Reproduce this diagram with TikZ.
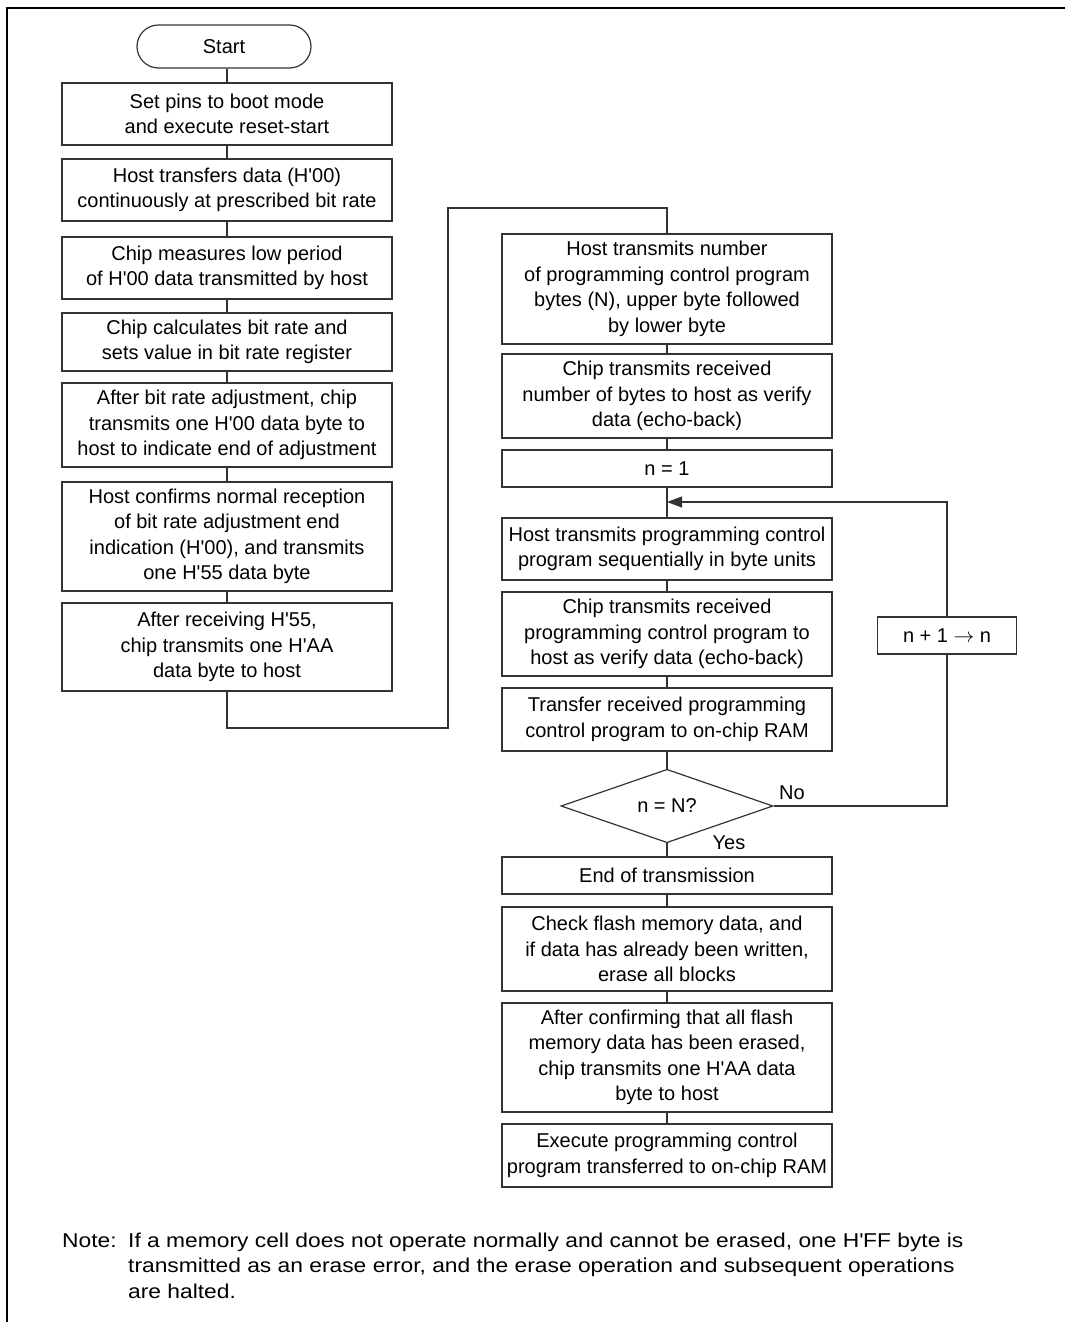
\documentclass[tikz,border=0pt]{standalone}
\usepackage{fontspec}
\setmainfont{Liberation Sans}
\newfontfamily\notefont[FakeStretch=1.14]{Liberation Sans}
\usetikzlibrary{shapes.geometric,arrows.meta}
\newcommand{\hq}{\textquotesingle}
\begin{document}
\begin{tikzpicture}[x=1bp,y=-1bp,
  every node/.style={font=\fontsize{20bp}{25.5bp}\selectfont, inner sep=0pt},
  box/.style={draw=black!80, line width=1.2bp, align=center, minimum width=330bp},
  term/.style={draw=black!80, line width=1.2bp, minimum width=174bp, minimum height=43bp, rounded corners=21.5bp},
  dec/.style={draw=black!80, line width=1.2bp, shape=diamond, minimum width=212bp, minimum height=72bp},
  conn/.style={draw=black!80, line width=1.2bp},
  frame/.style={draw=black, line width=2.5bp}
  ]
\useasboundingbox (0,0) rectangle (1065,1322);
\draw[frame] (1065,8) -- (7,8) -- (7,1322);

% left column
\node[term] (start) at (224,46.5) {Start};
\node[box, minimum height=62bp] (b1) at (227,114) {Set pins to boot mode\\and execute reset-start};
\node[box, minimum height=62bp] (b2) at (227,190) {Host transfers data (H\hq00)\\continuously at prescribed bit rate};
\node[box, minimum height=62bp] (b3) at (227,268) {Chip measures low period\\of H\hq00 data transmitted by host};
\node[box, minimum height=58bp] (b4) at (227,342) {Chip calculates bit rate and\\sets value in bit rate register};
\node[box, minimum height=84bp] (b5) at (227,425) {After bit rate adjustment, chip\\transmits one H\hq00 data byte to\\host to indicate end of adjustment};
\node[box, minimum height=109bp] (b6) at (227,536.5) {Host confirms normal reception\\of bit rate adjustment end\\indication (H\hq00), and transmits\\one H\hq55 data byte};
\node[box, minimum height=88bp] (b7) at (227,647) {After receiving H\hq55,\\chip transmits one H\hq AA\\data byte to host};

% right column
\node[box, minimum height=110bp] (r1) at (667,289) {Host transmits number\\of programming control program\\bytes (N), upper byte followed\\by lower byte};
\node[box, minimum height=84bp] (r2) at (667,396) {Chip transmits received\\number of bytes to host as verify\\data (echo-back)};
\node[box, minimum height=37bp] (r3) at (667,468.5) {n = 1};
\node[box, minimum height=62bp] (r4) at (667,549) {Host transmits programming control\\program sequentially in byte units};
\node[box, minimum height=84bp] (r5) at (667,634) {Chip transmits received\\programming control program to\\host as verify data (echo-back)};
\node[box, minimum height=63bp] (r6) at (667,719.5) {Transfer received programming\\control program to on-chip RAM};
\node[dec] (d) at (667,806) {n = N?};
\node[box, minimum height=37bp] (r7) at (667,875.5) {End of transmission};
\node[box, minimum height=84bp] (r8) at (667,949) {Check flash memory data, and\\if data has already been written,\\erase all blocks};
\node[box, minimum height=109bp] (r9) at (667,1057.5) {After confirming that all flash\\memory data has been erased,\\chip transmits one H\hq AA data\\byte to host};
\node[box, minimum height=63bp] (r10) at (667,1155.5) {Execute programming control\\program transferred to on-chip RAM};
\node[box, minimum width=139bp, minimum height=37bp] (inc) at (947,635.5) {n + 1 $\rightarrow$ n};

\node (no) at (792,793) {No};
\node (yes) at (729,843) {Yes};

\coordinate (c1) at (227,728);
\coordinate (c2) at (448,728);
\coordinate (c4) at (667,208);
\coordinate (j) at (667,502);

% connectors
\draw[conn] (start.south -| b1.north) -- (b1.north);
\draw[conn] (b1.south) -- (b2.north);
\draw[conn] (b2.south) -- (b3.north);
\draw[conn] (b3.south) -- (b4.north);
\draw[conn] (b4.south) -- (b5.north);
\draw[conn] (b5.south) -- (b6.north);
\draw[conn] (b6.south) -- (b7.north);
\draw[conn] (b7.south) |- (c2) |- (c4) -- (r1.north);
\draw[conn] (r1.south) -- (r2.north);
\draw[conn] (r2.south) -- (r3.north);
\draw[conn] (r3.south) -- (r4.north);
\draw[conn] (r4.south) -- (r5.north);
\draw[conn] (r5.south) -- (r6.north);
\draw[conn] (r6.south) -- (d.north);
\draw[conn] (d.south) -- (r7.north);
\draw[conn] (r7.south) -- (r8.north);
\draw[conn] (r8.south) -- (r9.north);
\draw[conn] (r9.south) -- (r10.north);
\draw[conn] (d.east) -| (inc.south);
\draw[conn, -{Triangle[length=15bp,width=11bp]}] (inc.north) |- (j);

% note
\node[anchor=base west] (note) at (62,1247) {\notefont\fontsize{20bp}{25.5bp}\selectfont\begin{tabular}[t]{@{}p{66bp}@{}l@{}}
Note: & If a memory cell does not operate normally and cannot be erased, one H\hq FF byte is\\
 & transmitted as an erase error, and the erase operation and subsequent operations\\
 & are halted.
\end{tabular}};
\end{tikzpicture}
\end{document}
